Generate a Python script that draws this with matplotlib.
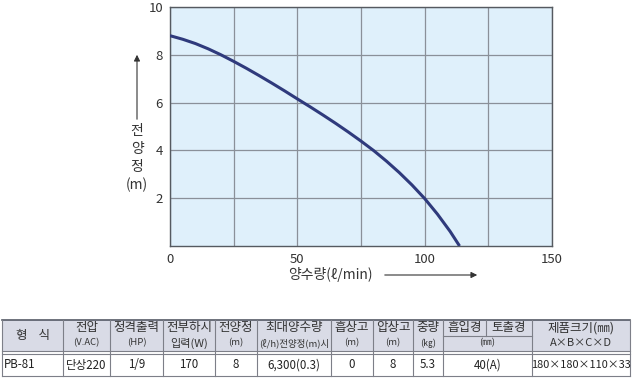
import matplotlib
matplotlib.use("Agg")
import matplotlib.pyplot as plt
from matplotlib.patches import Rectangle

plt.rcParams['font.family'] = ['Noto Sans CJK KR', 'DejaVu Sans']

# pump curve
flow = [0, 5, 10, 15, 20, 25, 30, 35, 40, 45, 50, 55, 60, 65, 70, 75, 80,
        85, 90, 95, 100, 105, 110, 113.7]
head = [8.8, 8.65, 8.47, 8.25, 8.0, 7.725, 7.435, 7.13, 6.815, 6.49, 6.155,
        5.825, 5.485, 5.135, 4.77, 4.39, 3.99, 3.55, 3.075, 2.555, 1.985,
        1.335, 0.61, 0.0]

x_ticks = [0, 50, 100, 150]
y_ticks = [2, 4, 6, 8, 10]

# spec table
head_top = ["형    식", "전압", "정격출력", "전부하시", "전양정", "최대양수량",
            "흡상고", "압상고", "중량", "흡입경", "토출경", "제품크기(㎜)"]
head_unit = ["", "(V.AC)", "(HP)", "입력(W)", "(m)", "(ℓ/h)전양정(m)시",
             "(m)", "(m)", "(㎏)", "(㎜)", "A×B×C×D"]
row = ["PB-81", "단상220", "1/9", "170", "8", "6,300(0.3)",
       "0", "8", "5.3", "40(A)", "180×180×110×33"]

W, H = 632, 378
dpi = 100
fig = plt.figure(figsize=(W / dpi, H / dpi), dpi=dpi)
fig.patch.set_facecolor("white")

ax = fig.add_axes([170 / W, 1 - 246 / H, 382 / W, 239 / H])
ax.set_facecolor("#dff0fb")
ax.plot(flow, head, color="#2f3a7c", lw=2.2, solid_capstyle="butt", zorder=3)
ax.set_xlim(0, 150)
ax.set_ylim(0, 10)
ax.set_xticks(x_ticks)
ax.set_yticks(y_ticks)
ax.set_xticks([25, 75, 125], minor=True)
ax.grid(True, which="both", color="#8a9099", lw=0.9)
ax.tick_params(which="both", length=0, colors="#333333", labelsize=9.5, pad=5)
for s in ax.spines.values():
    s.set_color("#555a60")
    s.set_linewidth(1.0)

# overlay in pixel coordinates (y down) for labels and table
ov = fig.add_axes([0, 0, 1, 1], zorder=5)
ov.set_xlim(0, W)
ov.set_ylim(H, 0)
ov.axis("off")
ov.patch.set_alpha(0)

arrow = dict(arrowstyle="-|>", color="#333333", lw=0.8, mutation_scale=9)
ov.annotate("", xy=(137, 52), xytext=(137, 122), arrowprops=arrow)
ov.annotate("", xy=(480, 275), xytext=(382, 275), arrowprops=arrow)

for ch, yy in zip(["전", "양", "정", "(m)"], [131, 149, 167, 185]):
    ov.text(137, yy, ch, ha="center", va="center", fontsize=10, color="#333333")
ov.text(330, 275, "양수량(ℓ/min)", ha="center", va="center", fontsize=10,
        color="#333333")

# table
edges = [2, 63, 110, 163, 215, 257, 331, 373, 413, 443, 486, 532, 630]
t0, t1, t2 = 320, 352, 376
mid = (t0 + t1) / 2
lc = "#7d7f88"
ov.add_patch(Rectangle((edges[0], t0), edges[-1] - edges[0], t1 - t0,
                       facecolor="#d9dbe6", edgecolor="none"))
ov.plot([edges[0], edges[-1]], [t0, t0], color="#555a66", lw=1.2)
ov.plot([edges[0], edges[-1]], [t1 - 1, t1 - 1], color=lc, lw=0.8)
ov.plot([edges[0], edges[-1]], [t1 + 1.5, t1 + 1.5], color=lc, lw=0.8)
ov.plot([edges[0], edges[-1]], [t2, t2], color=lc, lw=0.8)
for e in edges:
    if e == 486:
        ov.plot([e, e], [t0, mid], color=lc, lw=0.8)
    else:
        ov.plot([e, e], [t0, t2], color=lc, lw=0.8)
ov.plot([edges[9], edges[11]], [mid, mid], color=lc, lw=0.8)

for k in range(12):
    cx = (edges[k] + edges[k + 1]) / 2
    yy = mid if k == 0 else 328
    ov.text(cx, yy, head_top[k], ha="center", va="center", fontsize=9,
            color="#333333")

unit_cols = [(1, 2), (2, 3), (3, 4), (4, 5), (5, 6), (6, 7), (7, 8), (8, 9),
             (9, 11), (11, 12)]
for (a, b), u in zip(unit_cols, head_unit[1:]):
    cx = (edges[a] + edges[b]) / 2
    fs = 8 if u in ("입력(W)", "A×B×C×D") else 6.8
    ov.text(cx, 343, u, ha="center", va="center", fontsize=fs, color="#333333")

data_cols = [(0, 1), (1, 2), (2, 3), (3, 4), (4, 5), (5, 6), (6, 7), (7, 8),
             (8, 9), (9, 11), (11, 12)]
for (a, b), v in zip(data_cols, row):
    if a == 0:
        ov.text(edges[0] + 2, 365, v, ha="left", va="center", fontsize=8.3,
                color="#222222")
    else:
        fs = 7.9 if a == 11 else 8.3
        ov.text((edges[a] + edges[b]) / 2, 365, v, ha="center", va="center",
                fontsize=fs, color="#222222")

fig.savefig("out.png", dpi=dpi)
